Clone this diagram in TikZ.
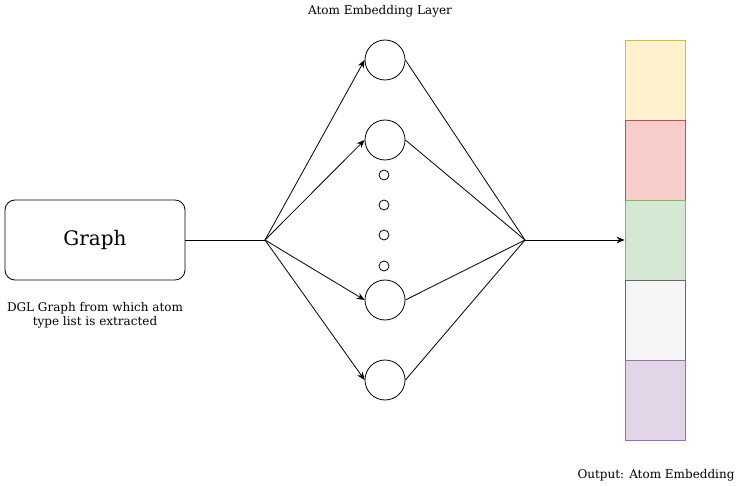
\documentclass[tikz,border=0pt]{standalone}
\usepackage{fontspec}
\setmainfont{DejaVu Serif}
\usepackage{tikz}
\usetikzlibrary{arrows.meta,positioning,calc}
\definecolor{layerYellow}{HTML}{FFF2CC}
\definecolor{layerYellowLine}{HTML}{D6B656}
\definecolor{layerRed}{HTML}{F8CECC}
\definecolor{layerRedLine}{HTML}{B85450}
\definecolor{layerGreen}{HTML}{D5E8D4}
\definecolor{layerGreenLine}{HTML}{82B366}
\definecolor{layerGray}{HTML}{F5F5F5}
\definecolor{layerGrayLine}{HTML}{666666}
\definecolor{layerPurple}{HTML}{E1D5E7}
\definecolor{layerPurpleLine}{HTML}{9673A6}

\begin{document}
\begin{tikzpicture}[
      x=1pt, y=1pt,
      line width=0.8pt,
      capt/.style={font=\fontsize{12}{14}\selectfont, align=center},
      unit/.style={circle, draw, minimum size=40pt, inner sep=0pt},
      dot/.style={circle, draw, minimum size=10pt, inner sep=0pt},
      cell/.style={draw, minimum width=60pt, minimum height=80pt,
        inner sep=0pt, line width=0.7pt},
      >={Stealth[length=8pt,width=6.5pt]}
    ]
      \useasboundingbox (0,0) rectangle (741,-486);

      % Input graph
      \node[draw, rounded corners=10pt, minimum width=180pt,
        minimum height=80pt, font=\fontsize{20}{24}\selectfont]
        (graph) at (95,-240) {Graph};
      \node[capt] (graphcap) at (95,-315)
        {DGL Graph from which atom\\type list is extracted};

      % Embedding layer
      \node[capt] (layercap) at (380,-11) {Atom Embedding Layer};
      \node[unit] (u1) at (385,-60) {};
      \node[unit] (u2) at (385,-140) {};
      \node[unit] (u3) at (385,-300) {};
      \node[unit] (u4) at (385,-380) {};
      \foreach \y [count=\i] in {175,205,235,266}
        \node[dot] (d\i) at (384,-\y) {};

      % Hubs
      \coordinate (split) at (265,-240);
      \coordinate (merge) at (525,-240);

      % Output stack
      \node[cell, fill=layerYellow, draw=layerYellowLine] (e1) at (655,-80) {};
      \node[cell, fill=layerRed, draw=layerRedLine] (e2) at (655,-160) {};
      \node[cell, fill=layerGreen, draw=layerGreenLine] (e3) at (655,-240) {};
      \node[cell, fill=layerGray, draw=layerGrayLine] (e4) at (655,-320) {};
      \node[cell, fill=layerPurple, draw=layerPurpleLine] (e5) at (655,-400) {};
      \node[capt] (outcap) at (656,-475) {Output: Atom Embedding};

      % Connectors
      \draw (graph.east) -- (split);
      \foreach \n in {u1,u2,u3,u4}
        \draw[->] (split) -- (\n.west);
      \foreach \n in {u1,u2,u3,u4}
        \draw (\n.east) -- (merge);
      \draw[->] (merge) -- (e3.west);
    \end{tikzpicture}
\end{document}
